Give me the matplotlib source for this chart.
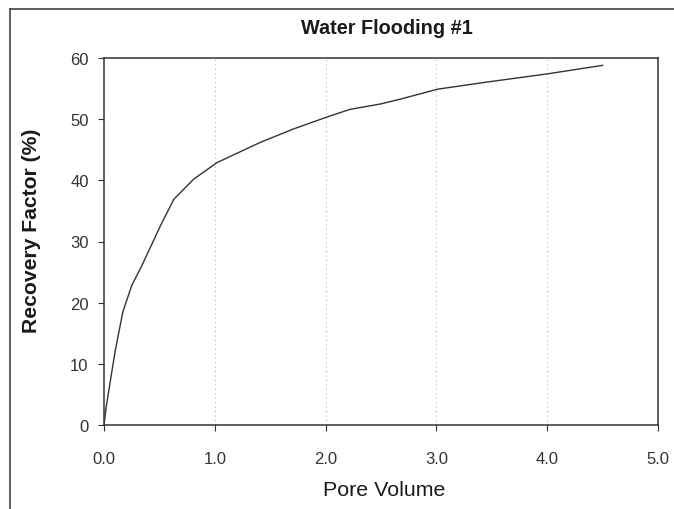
import matplotlib
matplotlib.use("Agg")
import matplotlib.pyplot as plt
from matplotlib.lines import Line2D

pore_volume = [0.0, 0.02, 0.1, 0.17, 0.25, 0.34, 0.51, 0.63, 0.81, 1.02, 1.41, 1.71, 2.02, 2.22, 2.5, 2.68, 3.01, 3.43, 4.0, 4.5]
recovery = [0.0, 3.0, 12.0, 18.5, 22.8, 26.0, 32.6, 36.9, 40.2, 42.9, 46.2, 48.4, 50.4, 51.6, 52.5, 53.3, 54.9, 56.0, 57.4, 58.8]
x_ticks = [0, 1, 2, 3, 4, 5]
x_tick_labels = ["0.0", "1.0", "2.0", "3.0", "4.0", "5.0"]
y_ticks = [0, 10, 20, 30, 40, 50, 60]

plt.rcParams['font.family'] = ['Liberation Sans', 'DejaVu Sans']

W, H = 674, 510
fig = plt.figure(figsize=(W / 100, H / 100), dpi=100)
ax = fig.add_axes([104 / W, 1 - 426 / H, (658 - 104) / W, (426 - 59) / H])

# outer chart frame (top and left edges visible)
fig.add_artist(Line2D([10 / W, 1.0], [1 - 10 / H, 1 - 10 / H], transform=fig.transFigure,
                      color='#444444', linewidth=1.2))
fig.add_artist(Line2D([10 / W, 10 / W], [0.0, 1 - 10 / H], transform=fig.transFigure,
                      color='#444444', linewidth=1.2))

ax.plot(pore_volume, recovery, color='#333333', linewidth=1.0)
ax.set_xlim(0, 5)
ax.set_ylim(0, 60)
ax.set_xticks(x_ticks)
ax.set_xticklabels(x_tick_labels)
ax.set_yticks(y_ticks)
for xv in [1, 2, 3, 4]:
    ax.axvline(xv, color='#b0b0b0', linestyle=(0, (1, 3)), linewidth=0.8, zorder=0)
ax.tick_params(axis='both', labelsize=12, length=4, color='#333333', labelcolor='#333333', direction='out')
ax.tick_params(axis='x', pad=15)
ax.tick_params(axis='y', pad=7)
for s in ax.spines.values():
    s.set_color('#333333')
    s.set_linewidth(1.1)

fig.text(387 / W, 1 - 29 / H, "Water Flooding #1", fontsize=14.3,
         fontweight='bold', ha='center', va='center', color='#1a1a1a')
fig.text(384 / W, 1 - 491 / H, "Pore Volume", fontsize=15.4,
         ha='center', va='center', color='#1a1a1a')
fig.text(32 / W, 1 - 231 / H, "Recovery Factor (%)", fontsize=15.2,
         fontweight='bold', rotation=90, ha='center', va='center', color='#1a1a1a')

fig.savefig("out.png", dpi=100)
